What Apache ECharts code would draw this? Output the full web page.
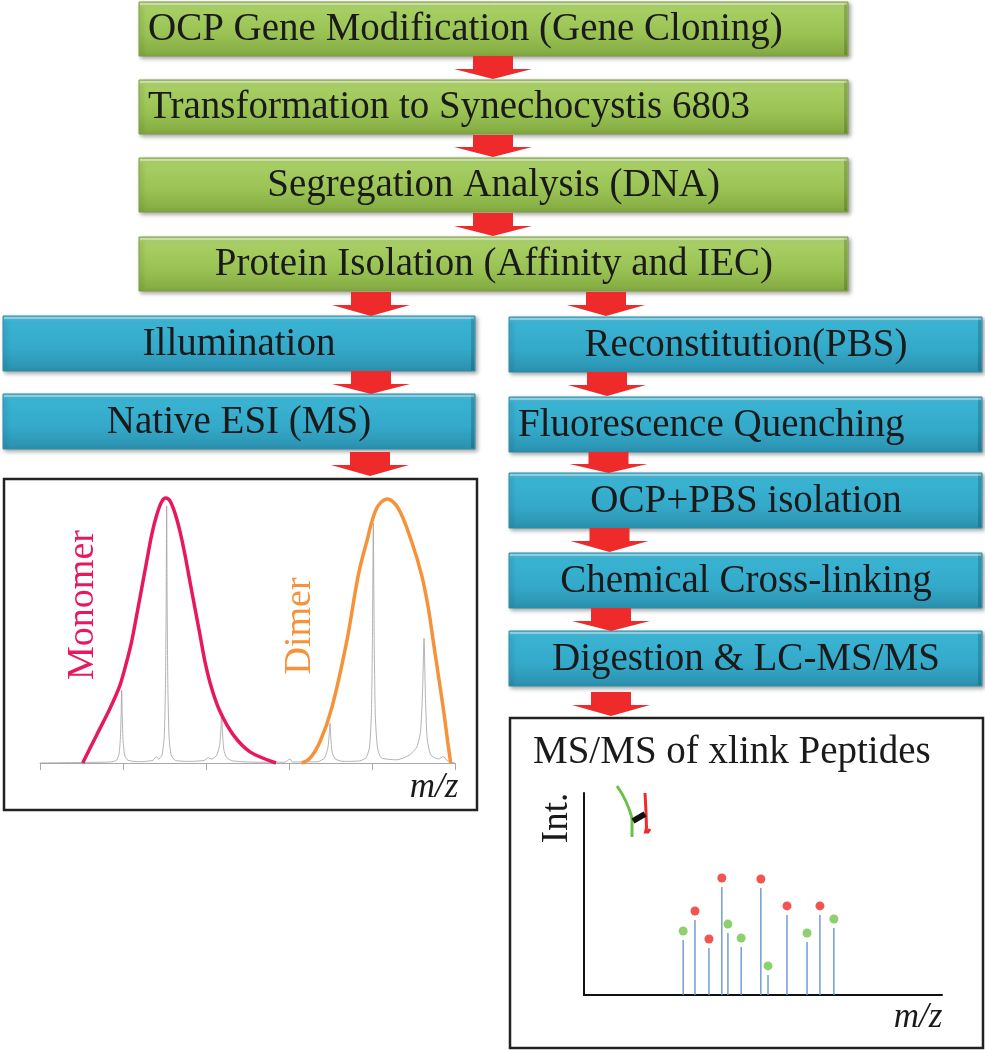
<!DOCTYPE html>
<html>
<head>
<meta charset="utf-8">
<script src="https://cdn.jsdelivr.net/npm/echarts@6/dist/echarts.min.js"></script>
<style>
html,body{margin:0;padding:0;background:#fff;}
#chart{width:985px;height:1050px;}
</style>
</head>
<body>
<div id="chart"></div>
<script>
// ---------------- DATA ----------------
const greenSteps = ['OCP Gene Modification (Gene Cloning)', 'Transformation to Synechocystis 6803', 'Segregation Analysis (DNA)', 'Protein Isolation (Affinity and IEC)'];
const leftSteps = ['Illumination', 'Native ESI (MS)'];
const rightSteps = ['Reconstitution(PBS)', 'Fluorescence Quenching', 'OCP+PBS isolation', 'Chemical Cross-linking', 'Digestion & LC-MS/MS'];
const envelopeLabels = ['Monomer', 'Dimer'];
const msmsTitle = 'MS/MS of xlink Peptides';
const intLabel = 'Int.';
const mzLabel = 'm/z';

// native ESI spectrum (arbitrary m/z units 0..5, relative intensity 0..100)
const spectrumXTicks = [0, 1, 2, 3, 4, 5];
const grayTrace = [
  [0, 0], [0.5, 0.2], [0.85, 0.4], [0.92, 1], [0.95, 3], [0.968, 9], [0.978, 19], [0.984, 27.5], [0.99, 19], [1.0, 9], [1.02, 3], [1.06, 1],
  [1.2, 0.5], [1.36, 1], [1.40, 2.4], [1.43, 1.5], [1.47, 3], [1.497, 10], [1.512, 30], [1.52, 60], [1.526, 97], [1.532, 60], [1.54, 30], [1.555, 10], [1.58, 3], [1.63, 1],
  [1.8, 0.6], [1.98, 1], [2.025, 2], [2.07, 1.5], [2.13, 3], [2.165, 7], [2.18, 13], [2.189, 19], [2.198, 12], [2.215, 5], [2.25, 2], [2.32, 0.8],
  [2.6, 0.3], [2.95, 0.3], [3.012, 1.5], [3.04, 0.4], [3.35, 0.5], [3.43, 2], [3.47, 6], [3.485, 11], [3.494, 15], [3.503, 10], [3.52, 4], [3.56, 1.5], [3.65, 0.6],
  [3.85, 0.8], [3.93, 2], [3.97, 6], [3.992, 18], [4.005, 45], [4.016, 90.6], [4.027, 45], [4.04, 18], [4.065, 6], [4.11, 2],
  [4.3, 1.2], [4.45, 3], [4.54, 6], [4.585, 12], [4.61, 28], [4.627, 47], [4.643, 26], [4.665, 9], [4.71, 3], [4.8, 1.5], [4.86, 2.5], [4.9, 1], [4.95, 0.4], [5, 0]
];
const monomerEnvelope = [
  [0.514, 0], [0.683, 10.6], [0.843, 20.6], [0.964, 29.4], [1.044, 38.2], [1.104, 45.8], [1.165, 55.8], [1.225, 65.9], [1.285, 76.0],
  [1.345, 86.0], [1.406, 93.6], [1.466, 98.6], [1.514, 100], [1.566, 98.9], [1.627, 94.2], [1.687, 87.3], [1.747, 78.5], [1.807, 68.4],
  [1.867, 58.4], [1.928, 48.3], [1.988, 38.2], [2.068, 28.2], [2.169, 19.4], [2.329, 10.6], [2.53, 4.2], [2.843, 0]
];
const dimerEnvelope = [
  [3.153, 0], [3.253, 1.8], [3.373, 8.0], [3.514, 20.6], [3.695, 45.8], [3.835, 70.9], [3.936, 83.5], [4.056, 96.1], [4.185, 99.6],
  [4.317, 96.1], [4.478, 83.5], [4.598, 70.9], [4.679, 58.4], [4.739, 45.8], [4.799, 33.2], [4.859, 20.6], [4.912, 8.0], [4.948, 0]
];

// MS/MS of cross-linked peptides (m/z 0..100, intensity 0..100)
const redFragmentMz = [31.0, 34.9, 38.5, 49.4, 56.7, 65.9];
const redFragmentInt = [41.6, 27.7, 57.9, 57.4, 44.1, 44.1];
const greenFragmentMz = [27.7, 40.2, 43.9, 51.4, 62.3, 69.8];
const greenFragmentInt = [31.7, 35.1, 28.2, 14.4, 30.7, 37.6];

// ---------------- LAYOUT / STYLE ----------------
const FONT = '39px "Liberation Serif", "Times New Roman", serif';
const ITALIC = 'italic 35px "Liberation Serif", "Times New Roman", serif';
const RED = '#ee2a2a';

const greenGrad = new echarts.graphic.LinearGradient(0, 0, 0, 1, [
  {offset: 0, color: '#c2de8c'}, {offset: 0.12, color: '#a8cf64'}, {offset: 0.6, color: '#99c253'}, {offset: 1, color: '#82a941'}
]);
const blueGrad = new echarts.graphic.LinearGradient(0, 0, 0, 1, [
  {offset: 0, color: '#66c8e0'}, {offset: 0.12, color: '#3ab3d3'}, {offset: 0.6, color: '#34a9c9'}, {offset: 1, color: '#2b90ae'}
]);

const graphics = [];
function box(x, y, w, h, grad, edge) {
  graphics.push({type: 'rect', shape: {x, y, width: w, height: h},
    style: {fill: grad, stroke: edge, lineWidth: 1, shadowBlur: 4, shadowOffsetX: 2, shadowOffsetY: 2, shadowColor: 'rgba(0,0,0,0.35)'}, z: 1});
  graphics.push({type: 'rect', shape: {x: x + w - 4, y: y + 1, width: 3, height: h - 2}, style: {fill: 'rgba(0,0,0,0.16)'}, z: 2});
  graphics.push({type: 'rect', shape: {x: x + 1, y: y + 1, width: w - 2, height: 2}, style: {fill: 'rgba(255,255,255,0.35)'}, z: 2});
}
function label(text, x, y, align, font, color, rot) {
  graphics.push({type: 'text', x, y, rotation: rot || 0, z: 5,
    style: {text, font: font || FONT, fill: color || '#1a1a1a', textAlign: align || 'center', align: align || 'center', textVerticalAlign: 'middle', verticalAlign: 'middle'}});
}
function arrow(cx, y0, y1) {
  const sh = Math.round((y1 - y0) * 0.55);
  graphics.push({type: 'polygon', z: 3, shape: {points: [
    [cx - 20, y0], [cx + 20, y0], [cx + 20, y0 + sh], [cx + 39, y0 + sh], [cx, y1], [cx - 39, y0 + sh], [cx - 20, y0 + sh]
  ]}, style: {fill: RED}});
}

// green column
const gX = 139, gW = 709, gH = 54, gTops = [2, 80, 158, 237];
const gText = [[148, 'left'], [148, 'left'], [720, 'right'], [773, 'right']];
greenSteps.forEach((t, i) => {
  box(gX, gTops[i], gW, gH, greenGrad, '#7f9f45');
  label(t, gText[i][0], gTops[i] + gH / 2 + 1, gText[i][1]);
});
arrow(493, 56, 79); arrow(493, 135, 157); arrow(493, 213, 236);
arrow(371, 292, 316); arrow(606, 292, 316);

// left blue column
const lX = 3, lW = 472, bH = 55, lTops = [316, 394];
leftSteps.forEach((t, i) => {
  box(lX, lTops[i], lW, bH, blueGrad, '#2f8fa9');
  label(t, lX + lW / 2, lTops[i] + bH / 2 + 1, 'center');
});
arrow(371, 371, 394); arrow(370, 452, 476);

// right blue column
const rX = 509, rW = 473, rTops = [317, 397, 473, 553, 631];
const rText = [[746, 'center'], [518, 'left'], [746, 'center'], [746, 'center'], [746, 'center']];
rightSteps.forEach((t, i) => {
  box(rX, rTops[i], rW, bH, blueGrad, '#2f8fa9');
  label(t, rText[i][0], rTops[i] + bH / 2 + 1, rText[i][1]);
});
arrow(607, 372, 396); arrow(608.5, 452, 473); arrow(609.5, 528, 552); arrow(611, 608, 631); arrow(611, 692, 716);

// panels
graphics.push({type: 'rect', z: 0, shape: {x: 4, y: 479, width: 473, height: 331}, style: {fill: '#fff', stroke: '#222', lineWidth: 2.5}});
graphics.push({type: 'rect', z: 0, shape: {x: 510, y: 718, width: 473, height: 330}, style: {fill: '#fff', stroke: '#222', lineWidth: 2.5}});

// panel texts
label(envelopeLabels[0], 83, 605, 'center', '38px "Liberation Serif", serif', '#e8185f', Math.PI / 2);
label(envelopeLabels[1], 300, 626, 'center', '38px "Liberation Serif", serif', '#f5923a', Math.PI / 2);
label(mzLabel, 434, 788, 'center', ITALIC);
label(msmsTitle, 533, 753, 'left');
label(intLabel, 557, 818, 'center', '37px "Liberation Serif", serif', '#1a1a1a', Math.PI / 2);
label(mzLabel, 918, 1018, 'center', ITALIC);

// cross-link icon
graphics.push({type: 'bezierCurve', z: 5, shape: {x1: 617, y1: 786, cpx1: 627, cpy1: 800, x2: 632, y2: 818}, style: {stroke: '#6cc04a', lineWidth: 3, fill: 'none'}});
graphics.push({type: 'line', z: 5, shape: {x1: 632, y1: 818, x2: 632, y2: 837}, style: {stroke: '#6cc04a', lineWidth: 3}});
graphics.push({type: 'polyline', z: 5, shape: {points: [[645, 793], [646, 812], [646.5, 828], [645.5, 832], [648, 832], [650, 829]]}, style: {stroke: '#ee2a2a', lineWidth: 3, fill: 'none'}});
graphics.push({type: 'line', z: 6, shape: {x1: 633, y1: 821, x2: 645, y2: 814}, style: {stroke: '#111', lineWidth: 6}});

function stemRender(params, api) {
  const base = api.coord([api.value(0), 0]);
  const top = api.coord([api.value(0), api.value(1)]);
  return {type: 'line', shape: {x1: base[0], y1: base[1], x2: top[0], y2: top[1] + 9}, style: {stroke: '#6797d2', lineWidth: 1.4}};
}
const redPts = redFragmentMz.map((m, i) => [m, redFragmentInt[i]]);
const greenPts = greenFragmentMz.map((m, i) => [m, greenFragmentInt[i]]);

const option = {
  backgroundColor: '#ffffff',
  animation: false,
  graphic: {elements: graphics},
  grid: [
    {left: 40, top: 498, width: 415, height: 265},
    {left: 584, top: 793, width: 358, height: 202}
  ],
  xAxis: [
    {type: 'value', gridIndex: 0, min: spectrumXTicks[0], max: spectrumXTicks[spectrumXTicks.length - 1], interval: 1,
      axisLine: {show: true, lineStyle: {color: '#a8a8a8', width: 1}}, axisTick: {show: true, length: 7, lineStyle: {color: '#a8a8a8'}},
      axisLabel: {show: false}, splitLine: {show: false}},
    {type: 'value', gridIndex: 1, min: 0, max: 100,
      axisLine: {show: true, lineStyle: {color: '#111', width: 2}}, axisTick: {show: false}, axisLabel: {show: false}, splitLine: {show: false}}
  ],
  yAxis: [
    {type: 'value', gridIndex: 0, min: 0, max: 100, show: false},
    {type: 'value', gridIndex: 1, min: 0, max: 100,
      axisLine: {show: true, lineStyle: {color: '#111', width: 2}}, axisTick: {show: false}, axisLabel: {show: false}, splitLine: {show: false}}
  ],
  series: [
    {type: 'line', xAxisIndex: 0, yAxisIndex: 0, data: grayTrace, symbol: 'none', smooth: 0.2, clip: false,
      lineStyle: {color: '#a0a0a0', width: 0.8}, z: 3},
    {type: 'line', xAxisIndex: 0, yAxisIndex: 0, data: monomerEnvelope, symbol: 'none', smooth: 0.3, clip: false,
      lineStyle: {color: '#e8185f', width: 3.5}, z: 4},
    {type: 'line', xAxisIndex: 0, yAxisIndex: 0, data: dimerEnvelope, symbol: 'none', smooth: 0.35, clip: false,
      lineStyle: {color: '#f5923a', width: 3.5}, z: 4},
    {type: 'custom', xAxisIndex: 1, yAxisIndex: 1, data: redPts, renderItem: stemRender, z: 3},
    {type: 'custom', xAxisIndex: 1, yAxisIndex: 1, data: greenPts, renderItem: stemRender, z: 3},
    {type: 'scatter', xAxisIndex: 1, yAxisIndex: 1, data: redPts, symbolSize: 9, itemStyle: {color: '#ee2a24'}, z: 4},
    {type: 'scatter', xAxisIndex: 1, yAxisIndex: 1, data: greenPts, symbolSize: 9, itemStyle: {color: '#72c34a'}, z: 4}
  ]
};
const chart = echarts.init(document.getElementById('chart'), null, {renderer: 'canvas'});
chart.setOption(option);
</script>
</body>
</html>
